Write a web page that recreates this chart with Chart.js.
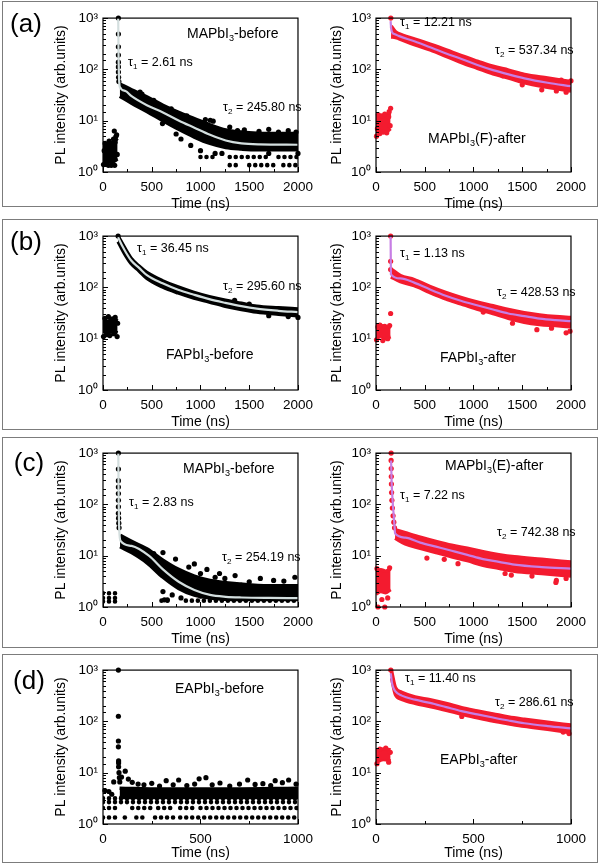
<!DOCTYPE html>
<html>
<head>
<meta charset="utf-8">
<script src="https://cdn.jsdelivr.net/npm/chart.js@4.4.1/dist/chart.umd.min.js"></script>
<style>
  body { margin: 0; background: #fff; }
  #page { position: relative; width: 600px; height: 867px; overflow: hidden; font-family: "Liberation Sans", Arial, sans-serif; color: #000; }
  .frame { position: absolute; border: 1px solid #7c7c7c; box-sizing: border-box; }
  .plot { position: absolute; }
  .lbl { position: absolute; white-space: nowrap; line-height: 1; transform: translateY(-50%); }
  .panel { font-size: 26px; transform: translate(-50%, -50%); }
  .sample { font-size: 14px; }
  .tau { font-size: 12.5px; }
  .lbl sub { font-size: 65%; vertical-align: -0.35em; line-height: 0; }
</style>
</head>
<body>
<div id="page"></div>
<script>
// ---- data (time in ns, PL in arb. units) ----
// (a) MAPbI3-before
const aBeforeFit = [[156,1000],[158,400],[160,160],[163,80],[167,55],[171,46],[230,38],[293,30],[450,20],[615,14.5],[780,10],[937,7.3],[1098,5.3],[1259,4.1],[1420,3.6],[1600,3.45],[2000,3.4]];
const aBeforeBand = [[172,30,52],[293,22,40],[454,15,29],[615,10,20],[776,6.8,14.5],[937,4.8,11],[1098,3.6,8.3],[1259,3.0,6.6],[1420,2.8,6.0],[1581,2.7,5.7],[1800,2.7,5.6],[2000,2.7,5.6]];
const aBeforeNoise = [[0,1.5,3.2],[50,1.6,3.5],[100,1.6,3.8],[150,1.8,4.5]];
const aBeforeDots = [[158,1000],[158,490],[158,276],[158,190],[158,138],[158,112],[158,89],[160,70],[163,58],
  [5,1.4],[12,2.6],[22,3.6],[30,1.4],[38,2.2],[47,3.3],[55,1.35],[63,4.0],[72,2.0],[80,3.0],[92,1.6],[98,3.4],[108,4.4],[116,6.3],[124,3.8],[132,4.9],[140,5.3],[146,2.2],[120,1.35],[85,1.35],
  [380,36],[400,33],[520,25],[610,8.8],[700,17],[750,5.5],[800,4.4],[860,12.5],[900,3.3],[980,9.5],[1000,2.6],[1050,10.5],[1100,10.2],[1130,9.8],[1150,2.3],[1300,7.5],[1380,6.4],[1450,6.6],[1600,6.2],[1700,6.8],[1800,6.0],[1900,6.4],[1980,6.0],[1220,2.3],[1700,2.3],[2000,2.3]];
const aBeforeRows = [[1.96,0,60],[1.96,1000,1150],[1.96,1300,1700],[1.96,1800,2000],[1.36,0,40],[1.36,1300,1400],[1.36,1500,1750],[1.36,1850,2000]];

// (a) MAPbI3(F)-after
const aAfterFit = [[150,870],[155,640],[165,530],[200,480],[232,450],[400,350],[555,270],[720,205],[877,160],[1040,122],[1200,97],[1360,80],[1523,67],[1760,55],[2000,47]];
const aAfterBand = [[155,430,700],[200,420,540],[232,400,500],[400,300,390],[555,240,310],[720,180,240],[877,135,185],[1040,105,145],[1200,82,115],[1360,68,97],[1523,55,80],[1760,45,68],[2000,38,58]];
const aAfterNoise = [[0,6,13],[50,6.5,12],[100,6,13],[150,7,14]];
const aAfterDots = [[152,1000],[150,17.5],[5,5],[15,7],[25,13],[40,5.6],[60,12.5],[75,6],[90,13.5],[110,5.8],[130,12],[145,8],[135,15],
  [1300,75],[1500,50],[1700,40],[1850,38],[1900,62],[1950,36],[2000,60]];

// (b) FAPbI3-before
const bBeforeFit = [[155,950],[160,900],[225,518],[289,334],[370,240],[450,173],[611,120],[770,90],[932,72],[1090,59],[1254,50],[1420,43],[1576,38.5],[1800,35],[2000,33]];
const bBeforeBand = [[155,780,1000],[225,440,580],[289,290,370],[370,210,260],[450,150,195],[611,102,135],[770,78,102],[932,62,80],[1090,52,66],[1254,43,56],[1420,37,49],[1576,33,43],[1800,30,40],[2000,28,38]];
const bBeforeNoise = [[0,14,24],[50,13,22],[100,14,25],[150,13,22]];
const bBeforeDots = [[155,1000],[5,11],[20,25],[35,12],[55,27],[70,11.5],[90,24],[110,12.5],[125,26],[145,11],[150,20],
  [1350,56],[1500,47],[1700,28],[1900,27],[2000,26]];

// (b) FAPbI3-after
const bAfterFit = [[150,1000],[151,500],[153,180],[250,150],[392,124],[550,92],[714,69],[870,55],[1035,45],[1200,37],[1357,31],[1520,27.5],[1678,24.6],[1840,23],[2000,22]];
const bAfterBand = [[153,160,230],[250,130,170],[392,108,142],[550,80,105],[714,60,80],[870,48,64],[1035,38,52],[1200,31,44],[1357,25,37],[1520,21,32],[1678,19,29],[1840,18,27],[2000,17,26]];
const bAfterNoise = [[0,10,18],[50,11,18],[100,10,17],[150,11,17]];
const bAfterDots = [[150,1000],[150,323],[150,223],[150,31],[5,9.5],[20,17],[40,18.5],[70,9.2],[90,17.5],[120,10],[140,18],
  [600,78],[1100,33],[1400,20],[1650,15],[1800,16],[1950,13],[1990,14]];

// (c) MAPbI3-before
const cBeforeFit = [[157,1000],[159,300],[161,100],[164,45],[170,25],[180,19.4],[293,15.5],[470,10],[615,5.4],[776,3.1],[937,2.15],[1098,1.72],[1260,1.58],[1420,1.53],[1700,1.5],[2000,1.49]];
const cBeforeBand = [[175,15,25],[293,11.5,19],[454,7.2,13.5],[615,3.8,8.2],[776,2.3,5.4],[937,1.7,4.0],[1098,1.5,3.3],[1420,1.4,2.8],[1700,1.4,2.6],[2000,1.4,2.6]];
const cBeforeDots = [[158,1000],[158,490],[158,290],[158,218],[158,163],[158,120],[158,90],[158,67],[160,54],[162,43],[165,35],
  [454,11.9],[520,11],[615,11.5],[744,8.6],[880,6.0],[937,6.9],[1000,4.5],[1066,5.4],[1150,3.8],[1195,4.5],[1250,3.6],[1355,4.1],[1500,3.1],[1614,3.6],[1750,3.3],[1855,3.2],[1968,3.8],
  [615,2.0],[630,1.38],[660,1.38],[710,1.72],[800,1.5]];
const cBeforeRows = [[1.85,0,150],[1.5,0,150],[1.28,0,150],[1.33,600,700],[1.33,850,2000],[1.6,1000,1100],[1.6,1300,1400],[1.6,1600,1700],[1.6,1850,2000]];

// (c) MAPbI3(E)-after
const cAfterFit = [[155,720],[160,290],[170,120],[180,67],[190,38],[196,27],[300,22.5],[454,18],[615,15],[776,12.5],[937,10.4],[1098,8.6],[1260,7.6],[1420,6.7],[1700,6.0],[2000,5.6]];
const cAfterBand = [[196,22,32],[300,17,28],[454,14,23],[615,11.5,19],[776,9.5,16],[937,8,14],[1098,6.5,12],[1260,5.7,10.5],[1420,5,9.5],[1700,4.5,8.5],[2000,4,7.5]];
const cAfterNoise = [[0,1.8,5],[50,2,5.3],[100,1.9,5],[150,2.2,5.5]];
const cAfterDots = [[155,1000],[155,720],[156,500],[157,350],[158,250],[160,170],[163,120],[168,85],[175,60],[183,45],[190,35],
  [20,1.0],[90,1.0],[10,5.6],[140,5.8],[60,1.4],[120,1.5],
  [522,9],[700,8.5],[841,7],[1324,4.5],[1388,4.2],[1600,4.0],[1845,3.0],[1850,3.3],[1950,3.6]];

// (d) EAPbI3-before
const dBeforeBand = [[85,3.3,5.0],[300,3.3,4.8],[600,3.3,4.8],[1000,3.3,5.0]];
const dBeforeDots = [[79,1000],[79,126],[79,41.5],[79,32],[80,17],[80,15.5],[80,13],[82,10],[84,8],[86,6.6],
  [95,8.2],[114,10.7],[130,7.5],[150,6.5],[180,6.0],[210,5.8],[250,6.2],[290,5.5],[324,7.0],[360,5.8],[388,7.2],[430,5.6],[470,6.0],[493,7.6],[528,8.0],[560,5.8],[600,6.3],[650,5.5],[700,6.0],[742,7.2],[780,5.9],[820,6.1],[860,5.6],[883,7.0],[920,6.4],[952,7.2],[990,6.0],
  [55,6.6],[10,4.5],[30,4.3],[45,3.8]];
const dBeforeRows = [[3.18,0,1000],[2.67,0,1000],[2.05,0,82],[2.05,150,270],[2.05,283,364],[2.05,396,468],[2.05,500,1000],
  [1.34,0,74],[1.34,112,118],[1.34,171,227],[1.34,267,364],[1.34,396,1000]];

// (d) EAPbI3-after
const dAfterFit = [[76,861],[80,640],[84,516],[100,384],[132,318],[200,265],[277,229],[360,190],[439,159],[520,137],[600,119],[680,104],[761,92],[880,81],[1000,73]];
const dAfterBand = [[80,700,950],[100,330,450],[132,270,370],[200,225,300],[277,195,265],[360,165,225],[439,138,185],[520,118,160],[600,102,140],[680,90,122],[761,80,110],[880,70,96],[1000,60,85]];
const dAfterNoise = [[0,16,28],[40,18,29],[75,17,28]];
const dAfterDots = [[76,1000],[5,15],[20,29],[50,30],[65,16],[73,25],[440,125],[560,120],[960,62],[990,58]];

const yTickValues = [1, 10, 100, 1000];
const yTickLabels = ['10⁰', '10¹', '10²', '10³'];

// ---- styles and layout ----
const RED = '#f31b2f';
const BLACK = '#000000';
const FIT_GRAY = '#d3dede';
const FIT_VIOLET = '#c77ee4';
const FONT = "'Liberation Sans', Arial, sans-serif";

const panels = [
  {id: 'aBefore', left: 28, top: 5, xMax: 2000, color: BLACK, fitColor: FIT_GRAY, fit: aBeforeFit, bands: [aBeforeNoise, aBeforeBand], dots: aBeforeDots, rows: aBeforeRows, yPad: 24.6, xPad: 1.6},
  {id: 'aAfter', left: 301, top: 5, xMax: 2000, color: RED, fitColor: FIT_VIOLET, fit: aAfterFit, bands: [aAfterNoise, aAfterBand], dots: aAfterDots, rows: [], yPad: 28, xPad: 1.6},
  {id: 'bBefore', left: 28, top: 223, xMax: 2000, color: BLACK, fitColor: FIT_GRAY, fit: bBeforeFit, bands: [bBeforeNoise, bBeforeBand], dots: bBeforeDots, rows: [], yPad: 24.6, xPad: 1.6},
  {id: 'bAfter', left: 301, top: 223, xMax: 2000, color: RED, fitColor: FIT_VIOLET, fit: bAfterFit, bands: [bAfterNoise, bAfterBand], dots: bAfterDots, rows: [], yPad: 28, xPad: 1.6},
  {id: 'cBefore', left: 28, top: 440, xMax: 2000, color: BLACK, fitColor: FIT_GRAY, fit: cBeforeFit, bands: [cBeforeBand], dots: cBeforeDots, rows: cBeforeRows, yPad: 24.6, xPad: 1.6},
  {id: 'cAfter', left: 301, top: 440, xMax: 2000, color: RED, fitColor: FIT_VIOLET, fit: cAfterFit, bands: [cAfterNoise, cAfterBand], dots: cAfterDots, rows: [], yPad: 28, xPad: 1.6},
  {id: 'dBefore', left: 28, top: 657, xMax: 1000, color: BLACK, fitColor: FIT_GRAY, fit: null, bands: [dBeforeBand], dots: dBeforeDots, rows: dBeforeRows, yPad: 24.6, xPad: 4.6},
  {id: 'dAfter', left: 301, top: 657, xMax: 1000, color: RED, fitColor: FIT_VIOLET, fit: dAfterFit, bands: [dAfterNoise, dAfterBand], dots: dAfterDots, rows: [], yPad: 28, xPad: 4.6}
];

const frames = [[1, 207], [219, 430], [437, 648], [654, 863]];

const texts = [
  ['panel', 26, 23, '(a)'], ['panel', 26, 241, '(b)'], ['panel', 29, 462, '(c)'], ['panel', 29, 680, '(d)'],
  ['sample', 187, 33, 'MAPbI<sub>3</sub>-before'], ['sample', 428, 138, 'MAPbI<sub>3</sub>(F)-after'],
  ['sample', 166, 354, 'FAPbI<sub>3</sub>-before'], ['sample', 440, 357, 'FAPbI<sub>3</sub>-after'],
  ['sample', 183, 468, 'MAPbI<sub>3</sub>-before'], ['sample', 445, 465, 'MAPbI<sub>3</sub>(E)-after'],
  ['sample', 175, 688, 'EAPbI<sub>3</sub>-before'], ['sample', 440, 759, 'EAPbI<sub>3</sub>-after'],
  ['tau', 128, 62, 'τ<sub>1</sub> = 2.61 ns'], ['tau', 223, 107, 'τ<sub>2</sub> = 245.80 ns'],
  ['tau', 400, 22, 'τ<sub>1</sub> = 12.21 ns'], ['tau', 495, 50, 'τ<sub>2</sub> = 537.34 ns'],
  ['tau', 137, 248, 'τ<sub>1</sub> = 36.45 ns'], ['tau', 223, 286, 'τ<sub>2</sub> = 295.60 ns'],
  ['tau', 400, 253, 'τ<sub>1</sub> = 1.13 ns'], ['tau', 497, 292, 'τ<sub>2</sub> = 428.53 ns'],
  ['tau', 129, 502, 'τ<sub>1</sub> = 2.83 ns'], ['tau', 222, 557, 'τ<sub>2</sub> = 254.19 ns'],
  ['tau', 400, 495, 'τ<sub>1</sub> = 7.22 ns'], ['tau', 497, 532, 'τ<sub>2</sub> = 742.38 ns'],
  ['tau', 405, 678, 'τ<sub>1</sub> = 11.40 ns'], ['tau', 495, 702, 'τ<sub>2</sub> = 286.61 ns']
];

const page = document.getElementById('page');
frames.forEach(([t, b]) => {
  const f = document.createElement('div');
  f.className = 'frame';
  Object.assign(f.style, {left: '2px', top: t + 'px', width: '596px', height: (b - t) + 'px'});
  page.appendChild(f);
});

// box around the plot area plus inward tick marks
const axisFrame = {
  id: 'axisFrame',
  afterDraw(chart) {
    const {ctx, chartArea: a, scales: {x, y}} = chart;
    ctx.save();
    ctx.strokeStyle = '#000';
    ctx.lineWidth = 1.2;
    ctx.strokeRect(a.left, a.top, a.right - a.left, a.bottom - a.top);
    ctx.lineWidth = 1;
    ctx.beginPath();
    y.ticks.forEach(t => {
      const py = Math.round(y.getPixelForValue(t.value)) + 0.5;
      const len = yTickValues.includes(t.value) ? 5 : 3;
      ctx.moveTo(a.left, py); ctx.lineTo(a.left + len, py);
    });
    x.ticks.forEach(t => {
      const px = Math.round(x.getPixelForValue(t.value)) + 0.5;
      const len = t.value % 500 === 0 ? 5 : 3;
      ctx.moveTo(px, a.bottom); ctx.lineTo(px, a.bottom - len);
    });
    ctx.stroke();
    ctx.restore();
  }
};

function buildDatasets(p) {
  const sets = [];
  if (p.fit) {
    sets.push({data: p.fit.map(d => ({x: d[0], y: d[1]})), borderColor: p.fitColor, borderWidth: 2.2,
      pointRadius: 0, fill: false, cubicInterpolationMode: 'monotone'});
  }
  sets.push({data: p.dots.map(d => ({x: d[0], y: d[1]})), showLine: false, pointRadius: 2.6,
    pointBorderWidth: 0, pointBackgroundColor: p.color, clip: 4});
  p.bands.forEach(b => {
    sets.push({data: b.map(d => ({x: d[0], y: d[2]})), fill: '+1', backgroundColor: p.color, borderColor: p.color,
      borderWidth: 3.5, pointRadius: 0, cubicInterpolationMode: 'monotone'});
    sets.push({data: b.map(d => ({x: d[0], y: d[1]})), fill: false, borderColor: p.color,
      borderWidth: 3.5, pointRadius: 0, cubicInterpolationMode: 'monotone'});
  });
  p.rows.forEach(r => {
    sets.push({data: [{x: r[1], y: r[0]}, {x: r[2], y: r[0]}], fill: false, borderColor: p.color,
      borderWidth: 4.6, borderDash: [0, 6], borderCapStyle: 'round', pointRadius: 0});
  });
  return sets;
}

panels.forEach(p => {
  const box = document.createElement('div');
  box.className = 'plot';
  Object.assign(box.style, {left: p.left + 'px', top: p.top + 'px'});
  const cv = document.createElement('canvas');
  cv.width = 292; cv.height = 209;
  box.appendChild(cv);
  page.appendChild(box);

  new Chart(cv.getContext('2d'), {
    type: 'line',
    data: {datasets: buildDatasets(p)},
    options: {
      responsive: false,
      animation: false,
      events: [],
      layout: {padding: {top: 10, right: 10, left: 0, bottom: 0}},
      plugins: {legend: {display: false}, tooltip: {enabled: false}},
      scales: {
        x: {
          type: 'linear', min: 0, max: p.xMax,
          grid: {display: false, drawTicks: false}, border: {display: false},
          ticks: {stepSize: 250, autoSkip: false, maxRotation: 0, padding: 7, color: '#000',
            font: {family: FONT, size: 13.5},
            callback: v => (v % 500 === 0 ? String(v) : '')},
          title: {display: true, text: 'Time (ns)', color: '#000', font: {family: FONT, size: 14},
            padding: {top: 0, bottom: p.xPad}},
          afterFit: s => { s.height = 42; }
        },
        y: {
          type: 'logarithmic', min: 1, max: 1000,
          grid: {display: false, drawTicks: false}, border: {display: false},
          ticks: {autoSkip: false, padding: 5, color: '#000', font: {family: FONT, size: 13.5},
            callback: v => {
              const i = yTickValues.indexOf(v);
              return i >= 0 ? yTickLabels[i] : '';
            }},
          title: {display: true, text: 'PL intensity (arb.units)', color: '#000', font: {family: FONT, size: 14},
            padding: {top: p.yPad, bottom: 0}},
          afterFit: s => { s.width = 75; }
        }
      }
    },
    plugins: [axisFrame]
  });
});

texts.forEach(([cls, x, y, html]) => {
  const el = document.createElement('div');
  el.className = 'lbl ' + cls;
  el.style.left = x + 'px';
  el.style.top = y + 'px';
  el.innerHTML = html;
  page.appendChild(el);
});
</script>
</body>
</html>
